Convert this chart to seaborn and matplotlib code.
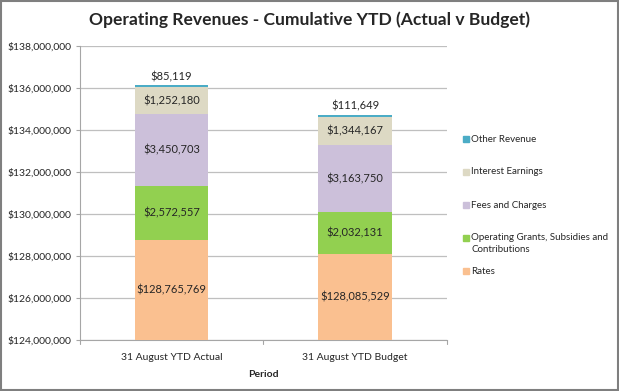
import numpy as np
import pandas as pd
import matplotlib
matplotlib.use("Agg")
import matplotlib.pyplot as plt
import matplotlib.patches as mpatches
import seaborn as sns

# chart data
periods = ["31 August YTD Actual", "31 August YTD Budget"]
categories = ["Rates", "Operating Grants, Subsidies and\nContributions",
              "Fees and Charges", "Interest Earnings", "Other Revenue"]
rates = [128765769, 128085529]
grants = [2572557, 2032131]
fees = [3450703, 3163750]
interest = [1252180, 1344167]
other = [85119, 111649]
colors = ["#FAC090", "#92D050", "#CCC0DA", "#DDD9C4", "#4BACC6"]

y_min, y_max = 124000000, 138000000

sns.set_style("white")
plt.rcParams["font.family"] = ["Lato", "DejaVu Sans"]

W, H = 619, 391
fig = plt.figure(figsize=(W / 100, H / 100), dpi=100)
ax = fig.add_axes([0.129, 0.130, 0.593, 0.752])

series = [rates, grants, fees, interest, other]
bottoms = np.zeros(len(periods))
for name, vals, col in zip(categories, series, colors):
    df = pd.DataFrame({"Period": periods, "Value": vals})
    sns.barplot(data=df, x="Period", y="Value", color=col, width=0.4,
                bottom=bottoms, ax=ax, saturation=1, linewidth=0, zorder=3)
    bottoms = bottoms + np.array(vals)

# value labels
bottoms = np.zeros(len(periods))
for i, vals in enumerate(series):
    for j, v in enumerate(vals):
        lo = max(bottoms[j], y_min)
        hi = bottoms[j] + v
        if i == len(series) - 1:
            ax.text(j, hi + 150000, f"${v:,.0f}", ha="center", va="bottom",
                    fontsize=8, zorder=5)
        else:
            ax.text(j, (lo + hi) / 2, f"${v:,.0f}", ha="center", va="center",
                    fontsize=8, zorder=5)
    bottoms = bottoms + np.array(vals)

ax.set_ylim(y_min, y_max)
ax.set_xlim(-0.5, 1.5)
ax.set_yticks(np.arange(y_min, y_max + 1, 2000000))
ax.yaxis.set_major_formatter(matplotlib.ticker.FuncFormatter(lambda v, p: f"${v:,.0f}"))
ax.grid(axis="y", color="#BFBFBF", linewidth=0.9, zorder=0)
ax.set_axisbelow(True)
for s in ["top", "right"]:
    ax.spines[s].set_visible(False)
for s in ["left", "bottom"]:
    ax.spines[s].set_color("#A6A6A6")
ax.tick_params(axis="y", labelsize=7.5, length=3, color="#A6A6A6", left=True, pad=3)
ax.tick_params(axis="x", labelsize=7.5, length=0, pad=9)
ax.set_xticks([0, 1])
ax.set_xticklabels(periods)
# category boundary ticks on the x axis
for xb in [-0.5, 0.5, 1.5]:
    ax.plot([xb, xb], [0, -0.012], transform=ax.get_xaxis_transform(),
            color="#A6A6A6", linewidth=0.8, clip_on=False)
ax.set_xlabel("Period", fontsize=7.5, fontweight="bold", labelpad=6)
ax.set_ylabel("")

fig.suptitle("Operating Revenues - Cumulative YTD (Actual v Budget)",
             fontsize=12.6, fontweight="bold", y=0.972, x=0.5)

# legend drawn by hand so the spacing matches the Excel layout (top entry first)
legend_y = [271, 238, 205, 172, 139]  # pixel rows of each entry's first line
for name, col, py in zip(categories, colors, legend_y):
    fy = 1 - py / H
    fig.patches.append(mpatches.Rectangle((463 / W, fy - 2.7 / H), 5.5 / W, 5.5 / H,
                                          transform=fig.transFigure, color=col))
    fig.text(471 / W, fy, name, fontsize=7, va="top" if "\n" in name else "center",
             linespacing=1.55, transform=fig.transFigure)
    if "\n" in name:
        fig.texts[-1].set_y(fy + 5.5 / H)

# outer frame
fig.patches.append(mpatches.Rectangle((0.002, 0.003), 0.996, 0.994, transform=fig.transFigure,
                                      fill=False, edgecolor="#7F7F7F", linewidth=1.5))

fig.savefig("out.png", dpi=100)
